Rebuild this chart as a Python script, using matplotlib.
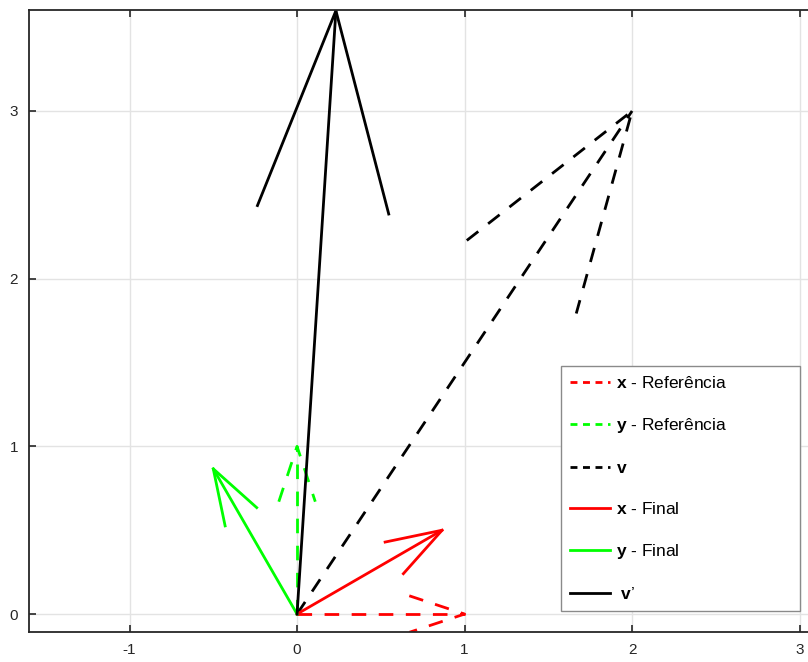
import matplotlib
matplotlib.use('Agg')
import matplotlib.pyplot as plt
import numpy as np

plt.rcParams['font.family'] = ['Liberation Sans', 'DejaVu Sans']
plt.rcParams['mathtext.fontset'] = 'custom'
plt.rcParams['mathtext.bf'] = 'Liberation Sans:bold'
plt.rcParams['mathtext.rm'] = 'Liberation Sans'
plt.rcParams['lines.scale_dashes'] = False
plt.rcParams['axes.unicode_minus'] = False

# vectors (origin at 0,0)
labels = [r'$\mathbf{x}$ - Referência', r'$\mathbf{y}$ - Referência', r'$\mathbf{v}$',
          r'$\mathbf{x}$ - Final', r'$\mathbf{y}$ - Final', r" $\mathbf{v}$" + "’"]
vec_u = [1.0, 0.0, 2.0, 0.866, -0.5, 0.232]
vec_v = [0.0, 1.0, 3.0, 0.5, 0.866, 3.598]
colors = ['#ff0000', '#00ff00', '#000000', '#ff0000', '#00ff00', '#000000']
dashed = [True, True, True, False, False, False]

x_ticks = [-1, 0, 1, 2, 3]
y_ticks = [0, 1, 2, 3]

fig = plt.figure(figsize=(8.08, 6.62), dpi=100)
ax = fig.add_axes([29 / 808, 30 / 662, 779 / 808, 622 / 662])

arrow_size = 0.33
for u, v, c, d, lab in zip(vec_u, vec_v, colors, dashed, labels):
    ls = dict(dashes=(10.5, 9)) if d else dict(linestyle='-')
    ax.plot([0, u], [0, v], color=c, lw=2, label=lab, **ls)
    # octave style open arrow head
    bx, by = u * (1 - arrow_size), v * (1 - arrow_size)
    px, py = -v * arrow_size * 0.33, u * arrow_size * 0.33
    ax.plot([bx + px, u, bx - px], [by + py, v, by - py], color=c, lw=2, **ls)

ax.set_xlim(-1.6, 3.05)
ax.set_ylim(-0.107, 3.602)
ax.set_xticks(x_ticks)
ax.set_yticks(y_ticks)
ax.grid(True, color='#e3e3e3', lw=1)
ax.set_axisbelow(True)
ax.tick_params(direction='in', length=5, width=1.2, colors='#262626', labelsize=11,
               top=True, right=False, pad=8)
for s in ['left', 'bottom', 'top']:
    ax.spines[s].set_color('#262626')
    ax.spines[s].set_linewidth(1.3)
ax.spines['right'].set_visible(False)

leg = ax.legend(loc='lower left', bbox_to_anchor=(0.683, 0.034, 0.307, 0.397),
                mode='expand', borderaxespad=0, fontsize=12.5, handlelength=2.3,
                labelspacing=1.45, fancybox=False, framealpha=1, edgecolor='#8a8a8a',
                handletextpad=0.35, borderpad=0.5)
leg.get_frame().set_linewidth(1)
for h in leg.get_lines():
    if h.get_linestyle() != '-':
        h.set_dashes((5, 4))

fig.savefig('out.png', dpi=100)
